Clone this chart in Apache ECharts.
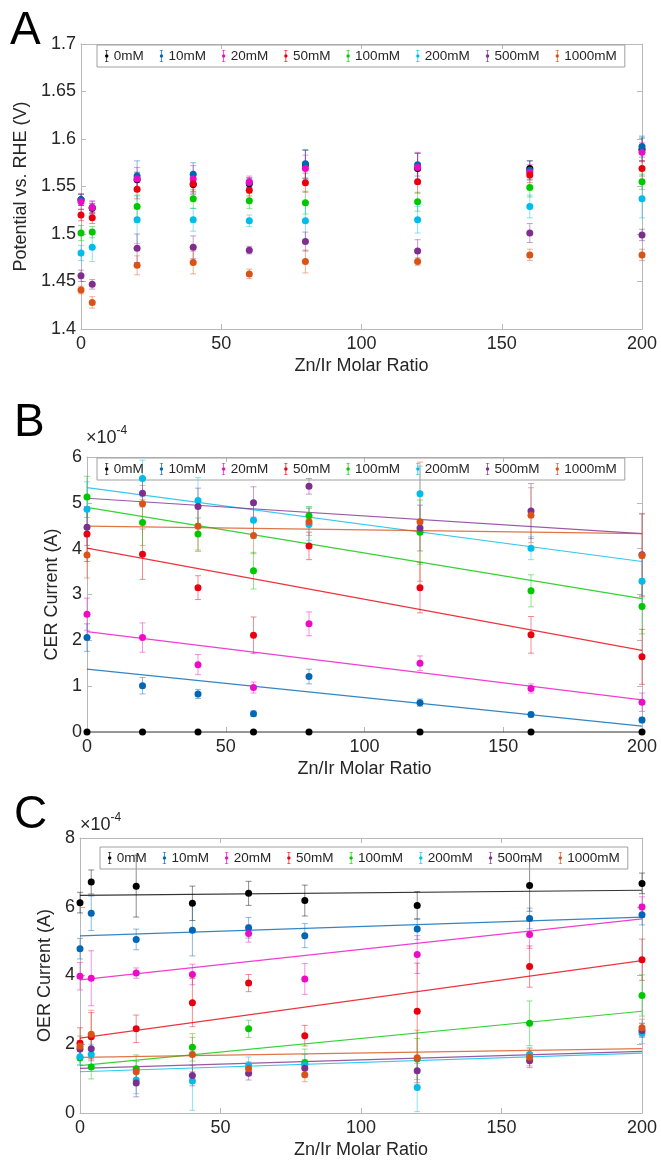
<!DOCTYPE html>
<html><head><meta charset="utf-8">
<script src="https://cdn.jsdelivr.net/npm/echarts@6/dist/echarts.min.js"></script>
<style>html,body{margin:0;padding:0;background:#fff}#c{width:661px;height:1167px}</style>
</head><body><div id="c"></div>
<script>
// ---------- DATA ----------
const seriesNames = ['0mM','10mM','20mM','50mM','100mM','200mM','500mM','1000mM'];
const xTicks = [0,50,100,150,200];

// Panel A: potential vs RHE (V)
const ratioA = [0,4,20,40,60,80,120,160,200];
const potential = [
  [1.536,1.527,1.557,1.552,1.553,1.573,1.569,1.569,1.589], // 0mM
  [1.536,1.528,1.561,1.563,1.554,1.574,1.573,1.567,1.592], // 10mM
  [1.534,1.528,1.558,1.558,1.555,1.569,1.570,1.565,1.586], // 20mM
  [1.520,1.517,1.547,1.553,1.546,1.554,1.555,1.562,1.569], // 50mM
  [1.501,1.502,1.529,1.537,1.535,1.533,1.534,1.549,1.555], // 100mM
  [1.480,1.486,1.515,1.515,1.514,1.514,1.515,1.529,1.537], // 200mM
  [1.456,1.447,1.485,1.486,1.483,1.492,1.482,1.501,1.499], // 500mM
  [1.441,1.428,1.467,1.470,1.458,1.471,1.471,1.478,1.478]  // 1000mM
];
const potentialErr = [
  [0.006,0.005,0.008,0.010,0.006,0.015,0.016,0.008,0.012],
  [0.006,0.006,0.016,0.012,0.005,0.015,0.012,0.010,0.011],
  [0.008,0.007,0.012,0.014,0.006,0.014,0.016,0.008,0.010],
  [0.006,0.006,0.010,0.008,0.006,0.010,0.012,0.008,0.008],
  [0.008,0.006,0.012,0.010,0.008,0.012,0.010,0.010,0.008],
  [0.008,0.015,0.025,0.012,0.006,0.020,0.014,0.012,0.020],
  [0.006,0.005,0.015,0.012,0.004,0.010,0.012,0.010,0.006],
  [0.004,0.006,0.010,0.012,0.005,0.012,0.004,0.006,0.006]
];

// Panel B: CER current (x1e-4 A)
const ratioB = [0,20,40,60,80,120,160,200];
const cer = [
  [0,0,0,0,0,0,0,0],
  [2.06,1.01,0.83,0.40,1.21,0.64,0.38,0.26],
  [2.57,2.06,1.47,0.97,2.36,1.50,0.95,0.65],
  [4.32,3.88,3.15,2.11,4.06,3.15,2.12,1.64],
  [5.13,4.57,4.32,3.52,4.72,4.36,3.08,2.74],
  [4.86,5.53,5.05,4.62,4.53,5.20,4.01,3.29],
  [4.47,5.21,4.92,5.00,5.36,4.45,4.82,3.87],
  [3.86,4.98,4.49,4.29,4.59,4.59,4.73,3.85]
];
const cerErr = [
  [0.02,0.02,0.02,0.02,0.02,0.02,0.02,0.02],
  [0.30,0.18,0.10,0.06,0.16,0.08,0.05,0.06],
  [0.35,0.32,0.22,0.12,0.26,0.16,0.10,0.20],
  [0.60,0.55,0.26,0.40,0.30,0.55,0.40,0.60],
  [0.45,0.50,0.35,0.40,0.20,0.70,0.35,0.60],
  [0.60,0.40,0.50,0.40,0.35,0.60,0.25,0.50],
  [0.40,0.30,0.40,0.35,0.17,0.50,0.60,0.90],
  [0.50,0.40,0.55,0.40,0.30,1.30,0.60,0.90]
];
// fitted trend lines (values at ratio 0 and 200)
const cerFitStart = [0.00,1.37,2.19,4.01,4.90,5.33,5.10,4.49];
const cerFitEnd   = [0.00,0.13,0.70,1.78,2.91,3.72,4.33,4.33];

// Panel C: OER current (x1e-4 A)
const ratioC = [0,4,20,40,60,80,120,160,200];
const oer = [
  [6.12,6.72,6.60,6.10,6.39,6.18,6.04,6.62,6.68],
  [4.78,5.81,5.05,5.32,5.39,5.16,5.35,5.66,5.77],
  [3.98,3.92,4.07,4.03,5.22,3.90,4.61,5.19,5.99],
  [2.03,2.22,2.45,3.21,3.78,2.25,2.96,4.26,4.46],
  [1.60,1.34,1.29,1.91,2.45,1.46,1.57,2.61,3.42],
  [1.64,1.70,0.96,0.93,1.38,1.40,0.74,1.71,2.32],
  [1.86,1.87,0.87,1.09,1.16,1.30,1.23,1.52,2.40],
  [1.94,2.29,1.20,1.70,1.29,1.11,1.61,1.62,2.48]
];
const oerErr = [
  [0.30,0.35,0.90,0.50,0.35,0.45,0.40,0.75,0.30],
  [0.30,0.50,0.30,0.75,0.30,0.35,0.30,0.30,0.30],
  [0.40,0.80,0.15,0.30,0.25,0.45,0.55,0.40,0.30],
  [0.45,0.70,0.40,0.70,0.25,0.30,1.40,0.60,0.60],
  [0.20,0.35,0.40,0.40,0.25,0.40,0.60,0.65,0.60],
  [0.25,0.30,0.40,0.85,0.25,0.30,0.70,0.20,0.30],
  [0.25,0.30,0.40,0.30,0.20,0.25,0.35,0.20,0.20],
  [0.30,0.70,0.30,0.50,0.20,0.20,0.80,0.25,0.25]
];
const oerFitStart = [6.33,5.15,3.87,2.18,1.38,1.20,1.30,1.62];
const oerFitEnd   = [6.48,5.70,5.65,4.43,2.96,1.74,1.79,1.87];

// ---------- STYLE ----------
const colors = ['#000000','#0067B5','#EC0CC8','#E8000E','#00C800','#00BCE8','#7E2F8E','#D95319'];
const FONT = 'Liberation Sans, Arial, sans-serif';
const TXT = '#262626';
const AXC = '#B8B8B8';

const grids = [
  {left:81, top:44, width:561, height:285},
  {left:87, top:457, width:555, height:275},
  {left:80, top:838, width:562, height:275}
];
const yCfg = [
  {min:1.4, max:1.7, interval:0.05, name:'Potential vs. RHE (V)', gap:49},
  {min:0, max:6, interval:1, name:'CER Current (A)', gap:22},
  {min:0, max:8, interval:2, name:'OER Current (A)', gap:22}
];

const xAxes = [], yAxes = [];
grids.forEach((g,i)=>{
  const common = {min:0, max:200, interval:50, type:'value', gridIndex:i,
    axisLine:{show:true, onZero:false, lineStyle:{color:AXC, width:1}},
    axisTick:{show:true, inside:true, length:5, lineStyle:{color:AXC}},
    splitLine:{show:false}};
  xAxes.push(Object.assign({}, common, {position:'bottom',
    name:'Zn/Ir Molar Ratio', nameLocation:'middle', nameGap:28,
    nameTextStyle:{fontFamily:FONT, fontSize:18, color:TXT},
    axisLabel:{fontFamily:FONT, fontSize:18, color:TXT, margin:6,
      customValues: xTicks}}));
  xAxes.push(Object.assign({}, common, {position:'top', axisLabel:{show:false}}));
  const y = yCfg[i];
  const yc = {min:y.min, max:y.max, interval:y.interval, type:'value', gridIndex:i,
    axisLine:{show:true, onZero:false, lineStyle:{color:AXC, width:1}},
    axisTick:{show:true, inside:true, length:5, lineStyle:{color:AXC}},
    splitLine:{show:false}};
  yAxes.push(Object.assign({}, yc, {position:'left',
    name:y.name, nameLocation:'middle', nameGap:y.gap, nameRotate:90,
    nameTextStyle:{fontFamily:FONT, fontSize:18, color:TXT},
    axisLabel:{fontFamily:FONT, fontSize:18, color:TXT, margin:5,
      formatter:v=>String(+v.toFixed(2))}}));
  yAxes.push(Object.assign({}, yc, {position:'right', axisLabel:{show:false}}));
});

function errSeries(panel, k, xs, ys, es){
  return {
    type:'custom', name:seriesNames[k], xAxisIndex:panel*2, yAxisIndex:panel*2, z:2,
    itemStyle:{color:colors[k]},
    data: xs.map((x,j)=>[x, ys[j], es[j]]),
    renderItem:(params, api)=>{
      const x = api.value(0), y = api.value(1), e = api.value(2);
      const top = api.coord([x, y+e]), bot = api.coord([x, y-e]);
      const cw = 3;
      const st = {stroke:colors[k], lineWidth:1, opacity:0.45};
      return {type:'group', children:[
        {type:'line', shape:{x1:top[0],y1:top[1],x2:bot[0],y2:bot[1]}, style:st},
        {type:'line', shape:{x1:top[0]-cw,y1:top[1],x2:top[0]+cw,y2:top[1]}, style:st},
        {type:'line', shape:{x1:bot[0]-cw,y1:bot[1],x2:bot[0]+cw,y2:bot[1]}, style:st}
      ]};
    }
  };
}
function ptSeries(panel, k, xs, ys){
  return {type:'scatter', name:seriesNames[k], xAxisIndex:panel*2, yAxisIndex:panel*2, z:4,
    symbol:'circle', symbolSize:7, itemStyle:{color:colors[k], opacity:1},
    data: xs.map((x,j)=>[x, ys[j]]), silent:true};
}
function fitSeries(panel, k, a, b){
  return {type:'line', name:seriesNames[k], xAxisIndex:panel*2, yAxisIndex:panel*2, z:3,
    symbol:'none', lineStyle:{color:colors[k], width:1.2, opacity:0.8},
    itemStyle:{color:colors[k]},
    data:[[0,a],[200,b]], silent:true};
}

const series = [];
seriesNames.forEach((n,k)=>{
  series.push(errSeries(0,k,ratioA,potential[k],potentialErr[k]));
  series.push(ptSeries(0,k,ratioA,potential[k]));
});
seriesNames.forEach((n,k)=>{
  series.push(fitSeries(1,k,cerFitStart[k],cerFitEnd[k]));
  series.push(errSeries(1,k,ratioB,cer[k],cerErr[k]));
  series.push(ptSeries(1,k,ratioB,cer[k]));
});
seriesNames.forEach((n,k)=>{
  series.push(fitSeries(2,k,oerFitStart[k],oerFitEnd[k]));
  series.push(errSeries(2,k,ratioC,oer[k],oerErr[k]));
  series.push(ptSeries(2,k,ratioC,oer[k]));
});

const legendIcon = 'path://M4.6,0H5.4V14H4.6Z M3,0H7V0.7H3Z M3,13.3H7V14H3Z M5,5A2,2 0 1 1 4.99,5Z';
function legend(left, top){
  return {left:left, top:top, orient:'horizontal', data:seriesNames,
    icon:legendIcon, itemWidth:6, itemHeight:12, itemGap:16,
    borderColor:'#A0A0A0', borderWidth:1, padding:[4,8,4,8],
    textStyle:{fontFamily:FONT, fontSize:13.5, color:TXT, padding:[0,0,0,-1]},
    selectedMode:false};
}

const panelLetter = (t,x,y)=>({type:'text', left:x, top:y,
  style:{text:t, fontFamily:FONT, fontSize:46, fill:'#000'}});
const sci = (x,y)=>({type:'text', left:x, top:y,
  style:{text:'{a|×10}{b|-4}', fontFamily:FONT, fill:TXT,
    rich:{a:{fontSize:18, fontFamily:FONT, fill:TXT, verticalAlign:'bottom'},
          b:{fontSize:12, fontFamily:FONT, fill:TXT, verticalAlign:'top', padding:[0,0,10,0]}}}});

const option = {
  animation:false,
  backgroundColor:'#fff',
  grid: grids.map(g=>Object.assign({containLabel:false}, g)),
  xAxis: xAxes, yAxis: yAxes,
  legend:[legend(97,45), legend(97,458), legend(100,847)],
  graphic:[panelLetter('A',10,8), panelLetter('B',14,400), panelLetter('C',14,792),
           sci(86,425), sci(80,812)],
  series: series
};
const chart = echarts.init(document.getElementById('c'), null, {renderer:'canvas'});
chart.setOption(option);
</script></body></html>
